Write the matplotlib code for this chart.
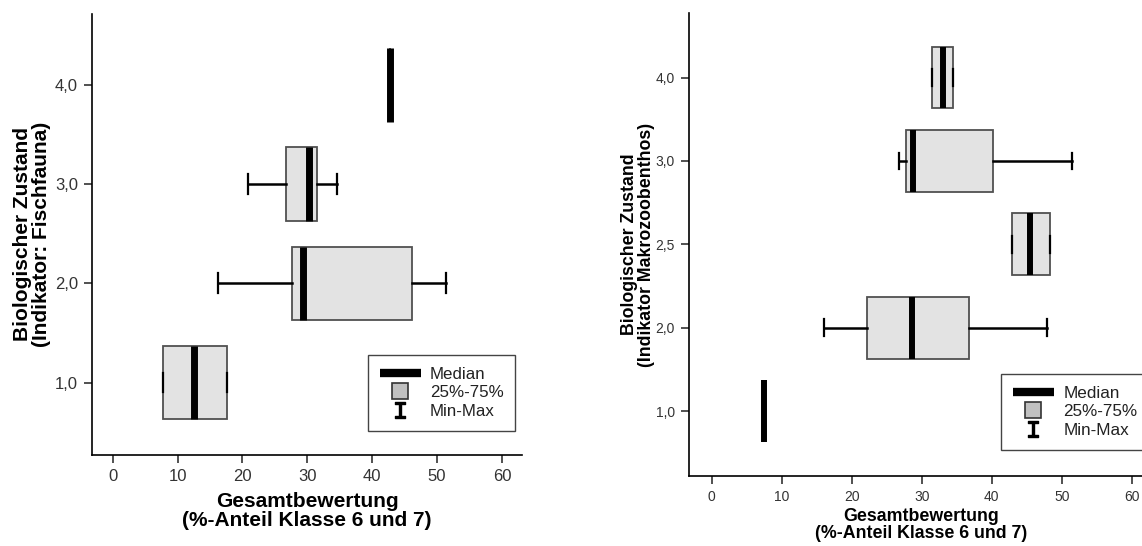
import matplotlib.pyplot as plt
from matplotlib.lines import Line2D

plt.rcParams["font.family"] = ["Liberation Sans", "DejaVu Sans"]

# left panel: Fischfauna
left_labels = ["1,0", "2,0", "3,0", "4,0"]
left_min = [7.7, 16.2, 20.8, 42.8]
left_q1 = [7.7, 27.7, 26.75, 42.8]
left_med = [12.5, 29.3, 30.3, 42.8]
left_q3 = [17.6, 46.1, 31.5, 42.8]
left_max = [17.6, 51.4, 34.6, 42.8]

# right panel: Makrozoobenthos
right_labels = ["1,0", "2,0", "2,5", "3,0", "4,0"]
right_min = [7.5, 16.1, 42.9, 26.7, 31.4]
right_q1 = [7.5, 22.2, 42.9, 27.7, 31.4]
right_med = [7.5, 28.6, 45.5, 28.7, 33.0]
right_q3 = [7.5, 36.7, 48.3, 40.2, 34.5]
right_max = [7.5, 47.9, 48.3, 51.5, 34.5]

x_ticks = [0, 10, 20, 30, 40, 50, 60]
xlabel = "Gesamtbewertung\n(%-Anteil Klasse 6 und 7)"

W, H = 1142, 546
fig = plt.figure(figsize=(W / 100, H / 100), dpi=100)
ax1 = fig.add_axes([92 / W, 1 - 455 / H, 430 / W, 441.5 / H])
ax2 = fig.add_axes([688.7 / W, 1 - 476 / H, 464 / W, 462.7 / H])


def draw(ax, labels, mins, q1s, meds, q3s, maxs, medw, fs_tick, fs_lab, ylabel):
    stats = []
    for lo, a, m, b, hi in zip(mins, q1s, meds, q3s, maxs):
        stats.append(dict(whislo=lo, q1=a, med=m, q3=b, whishi=hi, fliers=[]))
    pos = list(range(1, len(labels) + 1))
    ax.bxp(stats, positions=pos, widths=0.74, orientation="horizontal",
           patch_artist=True, capwidths=0.2,
           boxprops=dict(facecolor="#e3e3e3", edgecolor="#505050", linewidth=1.3),
           medianprops=dict(color="black", linewidth=medw, solid_capstyle="butt"),
           whiskerprops=dict(color="black", linewidth=1.8),
           capprops=dict(color="black", linewidth=1.6))
    ax.set_yticks(pos)
    ax.set_yticklabels(labels)
    ax.set_xticks(x_ticks)
    ax.spines["top"].set_visible(False)
    ax.spines["right"].set_visible(False)
    ax.spines["left"].set_linewidth(1.2)
    ax.spines["bottom"].set_linewidth(1.2)
    ax.tick_params(direction="out", length=6, width=1.2, pad=4,
                   labelsize=fs_tick, labelcolor="#333333", color="#333333")
    ax.set_xlabel(xlabel, fontsize=fs_lab, fontweight="bold", linespacing=1.0,
                  labelpad=6)
    ax.set_ylabel(ylabel, fontsize=fs_lab, fontweight="bold", linespacing=1.0,
                  labelpad=3)


draw(ax1, left_labels, left_min, left_q1, left_med, left_q3, left_max,
     5, 12, 15, "Biologischer Zustand\n(Indikator: Fischfauna)")
ax1.set_xlim(-3.2, 63.1)
ax1.set_ylim(0.27, 4.72)

draw(ax2, right_labels, right_min, right_q1, right_med, right_q3, right_max,
     4.3, 10, 12.8, "Biologischer Zustand\n(Indikator Makrozoobenthos)")
ax2.set_xlim(-3.29, 63)
ax2.set_ylim(0.222, 5.77)
ax2.xaxis.labelpad = 3
ax2.yaxis.labelpad = 0


def legend(ax, x, y, fs):
    handles = [
        Line2D([], [], color="black", lw=6, solid_capstyle="butt"),
        Line2D([], [], ls="none", marker="s", markersize=11,
               mfc="#c0c0c0", mec="#333333", mew=1.2),
        Line2D([], [], ls="none", marker=r"$\mathtt{I}$", markersize=12,
               color="black"),
    ]
    leg = ax.legend(handles, ["Median", "25%-75%", "Min-Max"], loc="upper left",
                    bbox_to_anchor=(x / W, 1 - y / H),
                    bbox_transform=fig.transFigure, fontsize=fs,
                    fancybox=False, framealpha=1, edgecolor="#444444",
                    handlelength=2.4, handletextpad=0.55, labelspacing=0.2,
                    borderpad=0.7, borderaxespad=0)
    leg.get_frame().set_linewidth(1.0)
    for t in leg.get_texts():
        t.set_color("#222222")


legend(ax1, 368, 355, 12.2)
legend(ax2, 1001, 374, 12.3)

fig.savefig("out.png", dpi=100)
